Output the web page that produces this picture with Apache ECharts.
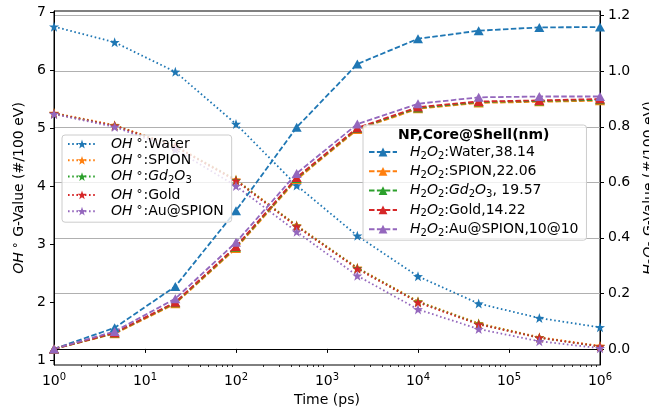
<!DOCTYPE html>
<html><head><meta charset="utf-8">
<script src="https://cdn.jsdelivr.net/npm/echarts@6/dist/echarts.min.js"></script>
<style>html,body{margin:0;padding:0;background:#fff}#c{width:649px;height:408px}</style>
</head><body><div id="c"></div>
<script>
// ---- data ----
const times = [1, 4.64, 21.54, 100, 464.2, 2154, 10000, 46416, 215443, 1000000];

const ohWater  = [6.76, 6.49, 5.98, 5.08, 4.02, 3.15, 2.45, 1.98, 1.73, 1.57];
const ohSpion  = [5.27, 5.06, 4.70, 4.12, 3.33, 2.60, 2.02, 1.64, 1.40, 1.25];
const ohGd2O3  = [5.26, 5.05, 4.69, 4.11, 3.32, 2.59, 2.01, 1.63, 1.39, 1.24];
const ohGold   = [5.26, 5.05, 4.69, 4.10, 3.31, 2.58, 2.00, 1.62, 1.39, 1.24];
const ohAuSpion= [5.25, 5.03, 4.64, 4.01, 3.22, 2.46, 1.88, 1.54, 1.33, 1.21];

const h2Water  = [0.000, 0.076, 0.225, 0.498, 0.798, 1.026, 1.117, 1.146, 1.158, 1.159];
const h2Spion  = [0.000, 0.055, 0.163, 0.362, 0.610, 0.790, 0.865, 0.886, 0.890, 0.894];
const h2Gd2O3  = [0.000, 0.057, 0.166, 0.366, 0.614, 0.794, 0.868, 0.889, 0.893, 0.897];
const h2Gold   = [0.000, 0.058, 0.168, 0.369, 0.617, 0.796, 0.871, 0.891, 0.895, 0.900];
const h2AuSpion= [0.000, 0.063, 0.181, 0.384, 0.632, 0.810, 0.883, 0.906, 0.909, 0.909];

const leftTicks  = [1, 2, 3, 4, 5, 6, 7];
const rightTicks = [0, 0.2, 0.4, 0.6, 0.8, 1.0, 1.2];
const xMajorTicks = [1, 10, 100, 1000, 10000, 100000, 1000000];

const ohLabels = [
  '{it0|OH}{deg|°}{n|:Water}',
  '{it0|OH}{deg|°}{n|:SPION}',
  '{it0|OH}{deg|°}{n|:}{it|Gd}{sb|2}{it|O}{sb|3}',
  '{it0|OH}{deg|°}{n|:Gold}',
  '{it0|OH}{deg|°}{n|:Au@SPION}'
];
const h2Labels = [
  '{it0|H}{sb|2}{it|O}{sb|2}{n|:Water,38.14}',
  '{it0|H}{sb|2}{it|O}{sb|2}{n|:SPION,22.06}',
  '{it0|H}{sb|2}{it|O}{sb|2}{n|:}{it|Gd}{sb|2}{it|O}{sb|3}{n|, 19.57}',
  '{it0|H}{sb|2}{it|O}{sb|2}{n|:Gold,14.22}',
  '{it0|H}{sb|2}{it|O}{sb|2}{n|:Au@SPION,10@10}'
];
const legendTitle = 'NP,Core@Shell(nm)';

// ---- styling ----
const colors = ['#1f77b4', '#ff7f0e', '#2ca02c', '#d62728', '#9467bd'];
const FF = 'DejaVu Sans';
const STAR = 'path://M0,-10 L2.35,-3.24 L9.51,-3.09 L3.8,1.24 L5.88,8.09 L0,4 L-5.88,8.09 L-3.8,1.24 L-9.51,-3.09 L-2.35,-3.24 Z';

const minorTicks = [];
for (let d = 1; d < 1000000; d *= 10) for (let k = 2; k <= 9; k++) minorTicks.push(d * k);

const rich = {
  it0: {fontFamily: FF, fontSize: 14, fontStyle: 'italic', lineHeight: 18, color: '#000'},
  it:  {fontFamily: FF, fontSize: 14, fontStyle: 'italic', lineHeight: 18, color: '#000'},
  n:   {fontFamily: FF, fontSize: 14, lineHeight: 18, color: '#000'},
  deg: {fontFamily: FF, fontSize: 12, lineHeight: 18, color: '#000', padding: [0, 1, 0, 4]},
  sb:  {fontFamily: FF, fontSize: 10, lineHeight: 9, verticalAlign: 'bottom', color: '#000'},
  sp:  {fontFamily: FF, fontSize: 10, lineHeight: 8, verticalAlign: 'top', color: '#000'},
  b:   {fontFamily: FF, fontSize: 14, lineHeight: 18, color: '#000'}
};

const ohNames = ['ohWater', 'ohSpion', 'ohGd2O3', 'ohGold', 'ohAuSpion'];
const h2Names = ['h2Water', 'h2Spion', 'h2Gd2O3', 'h2Gold', 'h2AuSpion'];
const ohData = [ohWater, ohSpion, ohGd2O3, ohGold, ohAuSpion];
const h2Data = [h2Water, h2Spion, h2Gd2O3, h2Gold, h2AuSpion];

const series = [];
ohData.forEach((arr, i) => {
  series.push({
    name: ohNames[i], type: 'line', xAxisIndex: 0, yAxisIndex: 0,
    data: times.map((t, j) => [t, arr[j]]),
    symbol: STAR, symbolSize: 10, showAllSymbol: true,
    color: colors[i],
    lineStyle: {width: 1.8, type: [1.6, 2.6], color: colors[i]},
    itemStyle: {color: colors[i]},
    emphasis: {disabled: true}, animation: false
  });
});
h2Data.forEach((arr, i) => {
  series.push({
    name: h2Names[i], type: 'line', xAxisIndex: 0, yAxisIndex: 1,
    data: times.map((t, j) => [t, arr[j]]),
    symbol: 'triangle', symbolSize: [10, 9], showAllSymbol: true,
    color: colors[i],
    lineStyle: {width: 1.8, type: [5.5, 2.4], color: colors[i]},
    itemStyle: {color: colors[i]},
    emphasis: {disabled: true}, animation: false
  });
});

const labelMap = {};
ohNames.forEach((n, i) => labelMap[n] = ohLabels[i]);
h2Names.forEach((n, i) => labelMap[n] = h2Labels[i]);

const richLeg1 = JSON.parse(JSON.stringify(rich)); richLeg1.it0.padding = [0, 0, 0, 10];
const richLeg2 = JSON.parse(JSON.stringify(rich)); richLeg2.it0.padding = [0, 0, 0, 8];

const option = {
  animation: false,
  backgroundColor: '#fff',
  textStyle: {fontFamily: FF},
  grid: {left: 54, right: 49, top: 11, bottom: 43, show: true, borderColor: '#000', borderWidth: 1,
         backgroundColor: 'transparent', containLabel: false, outerBoundsMode: 'none'},
  title: {
    text: legendTitle, left: 398, top: 128, padding: 0, z: 10,
    textStyle: {fontFamily: FF, fontSize: 14, fontWeight: 'bold', color: '#000'}
  },
  legend: [
    {
      data: ohNames, orient: 'vertical', left: 62, top: 135,
      padding: [2, 8, 4, 5], itemWidth: 28, itemHeight: 11, itemGap: 2.3,
      backgroundColor: 'rgba(255,255,255,0.8)', borderColor: '#cccccc', borderWidth: 1, borderRadius: 3,
      formatter: n => labelMap[n], textStyle: {fontFamily: FF, fontSize: 14, color: '#000', rich: richLeg1},
      selectedMode: false
    },
    {
      data: h2Names, orient: 'vertical', left: 363, top: 125,
      padding: [20, 8, 2, 5], itemWidth: 28, itemHeight: 11, itemGap: 3.3,
      backgroundColor: 'rgba(255,255,255,0.8)', borderColor: '#cccccc', borderWidth: 1, borderRadius: 3,
      formatter: n => labelMap[n], textStyle: {fontFamily: FF, fontSize: 14, color: '#000', rich: richLeg2},
      selectedMode: false
    }
  ],
  xAxis: [
    {
      type: 'log', logBase: 10, min: 1, max: 1000000, position: 'bottom',
      name: 'Time (ps)', nameLocation: 'middle', nameGap: 26,
      nameTextStyle: {fontFamily: FF, fontSize: 14, color: '#000'},
      axisLine: {show: true, lineStyle: {color: '#000', width: 1}},
      axisTick: {show: true, length: 4, lineStyle: {color: '#000'}, customValues: xMajorTicks},
      axisLabel: {
        show: true, margin: 7, customValues: xMajorTicks,
        formatter: v => '{b|10}{sp|' + Math.round(Math.log10(v)) + '}',
        rich: rich
      },
      splitLine: {show: false}, minorTick: {show: false}
    },
    {
      type: 'log', logBase: 10, min: 1, max: 1000000, position: 'bottom', offset: 0,
      axisLine: {show: false},
      axisTick: {show: true, length: 2, lineStyle: {color: '#000', width: 0.8}, customValues: minorTicks},
      axisLabel: {show: false},
      splitLine: {show: false}
    }
  ],
  yAxis: [
    {
      type: 'value', min: 0.92, max: 7.03, position: 'left',
      name: '{it|OH}{deg|°}{n| G-Value (#/100 eV)}', nameLocation: 'middle', nameGap: 19, nameRotate: 90,
      nameTextStyle: {fontFamily: FF, fontSize: 14, color: '#000', rich: rich},
      axisLine: {show: true, lineStyle: {color: '#000'}},
      axisTick: {show: true, length: 4, lineStyle: {color: '#000'}, customValues: leftTicks},
      axisLabel: {customValues: leftTicks, margin: 8, fontFamily: FF, fontSize: 14, color: '#000'},
      splitLine: {show: false}
    },
    {
      type: 'value', min: -0.058, max: 1.217, position: 'right',
      name: '{it|H}{sb|2}{it|O}{sb|2}{n| G-Value (#/100 eV)}', nameLocation: 'middle', nameGap: 40, nameRotate: 90,
      nameTextStyle: {fontFamily: FF, fontSize: 14, color: '#000', rich: rich},
      axisLine: {show: true, lineStyle: {color: '#000'}},
      axisTick: {show: true, length: 4, lineStyle: {color: '#000'}, customValues: rightTicks},
      axisLabel: {customValues: rightTicks, margin: 8, fontFamily: FF, fontSize: 14, color: '#000', formatter: v => v.toFixed(1)},
      splitLine: {show: true, lineStyle: {color: '#b0b0b0', width: 1}}
    }
  ],
  series: series
};

const chart = echarts.init(document.getElementById('c'), null, {renderer: 'canvas'});
chart.setOption(option);
</script>
</body></html>
